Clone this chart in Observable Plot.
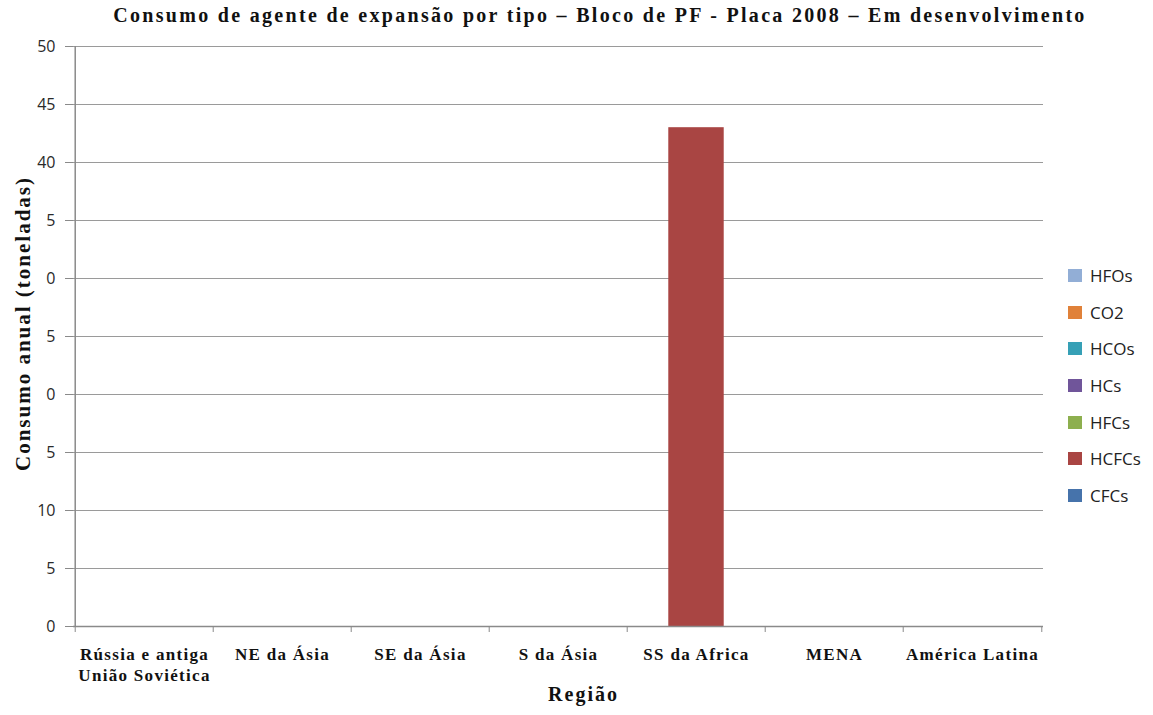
<!DOCTYPE html>
<html>
<head>
<meta charset="utf-8">
<script src="https://cdn.jsdelivr.net/npm/d3@7"></script>
<script src="https://cdn.jsdelivr.net/npm/@observablehq/plot@0.6"></script>
<style>
  html, body { margin: 0; padding: 0; background: #fff; }
  #wrap { position: relative; width: 1153px; height: 715px; }
  #title { position: absolute; left: 0; top: 4px; width: 1200px; text-align: center;
    font-family: "Liberation Serif", serif; font-weight: bold; font-size: 20px; color: #111; letter-spacing: 2.3px; }
  #legend { position: absolute; left: 1068px; top: 257px; font-family: "Open Sans", "Liberation Sans", sans-serif; font-size: 17px; color: #222; z-index: 2; }
  .li { display: flex; align-items: center; height: 36.7px; }
  .sw { width: 14px; height: 13px; margin-right: 8px; }
</style>
</head>
<body>
<div id="wrap">
  <div id="title">Consumo de agente de expansão por tipo – Bloco de PF -  Placa 2008 – Em desenvolvimento</div>
  <div id="legend"></div>
</div>
<script>
const regions = ["Rússia e antiga\nUnião Soviética", "NE da Ásia", "SE da Ásia", "S da Ásia", "SS da Africa", "MENA", "América Latina"];
const seriesNames = ["CFCs", "HCFCs", "HFCs", "HCs", "HCOs", "CO2", "HFOs"];
const seriesColors = ["#4673AB", "#A94543", "#8DAF4E", "#70559A", "#36A0B6", "#E08139", "#92AED6"];
const CFCs  = [0, 0, 0, 0, 0, 0, 0];
const HCFCs = [0, 0, 0, 0, 43, 0, 0];
const HFCs  = [0, 0, 0, 0, 0, 0, 0];
const HCs   = [0, 0, 0, 0, 0, 0, 0];
const HCOs  = [0, 0, 0, 0, 0, 0, 0];
const CO2   = [0, 0, 0, 0, 0, 0, 0];
const HFOs  = [0, 0, 0, 0, 0, 0, 0];
const yTicks = [0, 5, 10, 15, 20, 25, 30, 35, 40, 45, 50];
const yTickLabels = ["0", "5", "10", "5", "0", "5", "0", "5", "40", "45", "50"];

const seriesValues = [CFCs, HCFCs, HFCs, HCs, HCOs, CO2, HFOs];
const rows = [];
seriesNames.forEach((s, i) => regions.forEach((r, j) => rows.push({region: r, series: s, value: seriesValues[i][j]})));

const W = 1153, H = 715;
const mL = 73, mR = 110, mT = 46, mB = 89;
const step = (W - mL - mR) / regions.length;
const barW = 56;
const inset = (step - barW) / 2;

const chart = Plot.plot({
  width: W, height: H,
  marginLeft: mL, marginRight: mR, marginTop: mT, marginBottom: mB,
  style: {background: "transparent", overflow: "visible"},
  x: {domain: regions, padding: 0, label: null, axis: null},
  y: {domain: [0, 50], label: null, axis: null},
  color: {domain: seriesNames, range: seriesColors},
  marks: [
    Plot.gridY(yTicks.filter(d => d > 0), {stroke: "#9a9a9a", strokeOpacity: 1, strokeWidth: 1}),
    Plot.barY(rows, Plot.stackY({x: "region", y: "value", fill: "series", order: seriesNames, insetLeft: inset, insetRight: inset})),
    Plot.axisY({ticks: yTicks, tickFormat: (d) => yTickLabels[yTicks.indexOf(d)], tickSize: 8, tickPadding: 10, stroke: "#8a8a8a",
      fontFamily: "Open Sans, Liberation Sans, sans-serif", fontSize: 16, fill: "#2a2a2a", label: null}),
    Plot.ruleY([0], {stroke: "#8a8a8a", strokeWidth: 1.5}),
    Plot.ruleX([0], {x: () => regions[0], dx: -step / 2, stroke: "#8a8a8a", strokeWidth: 1.5}),
    Plot.axisX({ticks: regions, tickSize: 6, dx: -step / 2, tickFormat: null, text: null, stroke: "#8a8a8a", label: null}),
    Plot.axisX({ticks: [regions[regions.length - 1]], tickSize: 6, dx: step / 2, tickFormat: null, text: null, stroke: "#8a8a8a", label: null}),
    Plot.axisX({ticks: regions, tickSize: 0, tickPadding: 18, lineHeight: 1.25, fontFamily: "Liberation Serif, serif", fontWeight: "bold", fontSize: 17, fill: "#111", label: null}),
    Plot.text(["Região"], {frameAnchor: "bottom", dx: 25, dy: 74, fontFamily: "Liberation Serif, serif", fontWeight: "bold", fontSize: 20, fill: "#111"}),
    Plot.text(["Consumo anual (toneladas)"], {frameAnchor: "left", textAnchor: "middle", dx: -50, dy: -13, rotate: -90, fontFamily: "Liberation Serif, serif", fontWeight: "bold", fontSize: 21, fill: "#111"})
  ]
});
document.getElementById("wrap").appendChild(chart);
chart.style.position = "absolute"; chart.style.left = "0"; chart.style.top = "0";

// stretched lettering as in the reference
d3.select(chart).selectAll('g[aria-label="x-axis tick label"] text').style("letter-spacing", "1.3px");
d3.select(chart).selectAll('g[aria-label="text"] text').style("letter-spacing", "2px");

const legend = document.getElementById("legend");
[...seriesNames].reverse().forEach(s => {
  const i = seriesNames.indexOf(s);
  const d = document.createElement("div"); d.className = "li";
  d.innerHTML = `<span class="sw" style="background:${seriesColors[i]}"></span><span>${s}</span>`;
  legend.appendChild(d);
});
</script>
</body>
</html>
